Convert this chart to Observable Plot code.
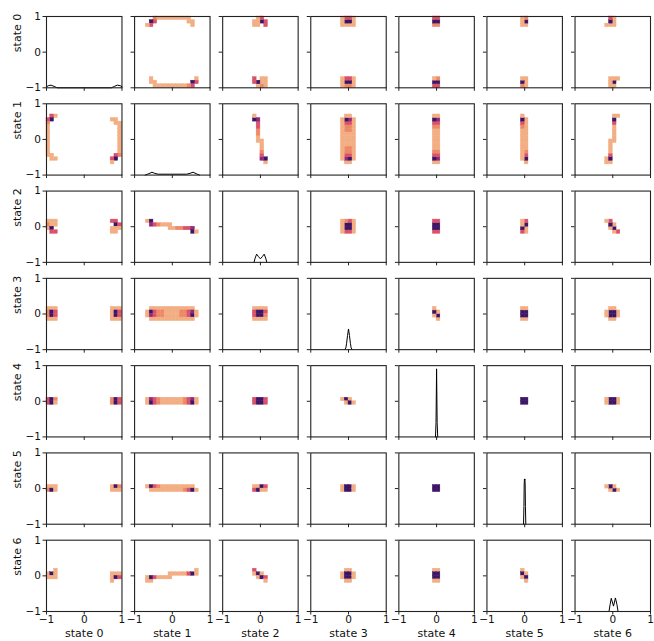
<!DOCTYPE html>
<html><head><meta charset="utf-8">
<script src="https://cdn.jsdelivr.net/npm/d3@7"></script>
<script src="https://cdn.jsdelivr.net/npm/@observablehq/plot@0.6"></script>
<style>body{margin:0;background:#fff} svg{display:block}</style>
</head><body><div id="chart"></div>
<script>
const stateLabels = ["state 0","state 1","state 2","state 3","state 4","state 5","state 6"];
const axisTicks = [-1, 0, 1];
const binCount = 20, binLo = -1, binHi = 1;
const levelColors = ["#f2ad82", "#ec8866", "#d9506a", "#8e2a7c", "#3d1566"];

// lower-triangle 2D histograms: [x bin (column state), y bin (row state), count level]
const hist_1_0 = [[2,16,1],[1,16,3],[1,15,5],[0,15,3],[0,14,2],[0,13,1],[0,12,1],[0,11,1],[0,10,1],[0,9,1],[0,8,1],[0,7,1],[0,6,1],[0,5,1],[1,5,1],[1,4,1],[2,4,1],
  [17,15,1],[18,15,1],[18,14,1],[19,14,1],[19,13,1],[19,12,1],[19,11,1],[19,10,1],[19,9,1],[19,8,1],[19,7,1],[19,6,1],[19,5,2],[18,5,3],[18,4,5],[17,4,3],[17,3,1]];
const hist_2_0 = [[0,11,1],[1,11,1],[2,11,1],[0,10,2],[1,10,1],[2,10,1],[0,9,1],[1,9,5],[1,8,3],[2,8,3],
  [17,11,3],[18,11,3],[18,10,5],[19,10,3],[19,9,1],[17,9,1],[18,9,1],[17,8,1],[18,8,1]];
const hist_2_1 = [[3,11,1],[4,11,5],[4,10,4],[5,10,3],[6,10,2],[7,10,1],[8,10,1],[9,10,1],[9,9,1],[10,9,1],[11,9,2],[12,9,2],[13,9,3],[14,9,3],[15,9,4],[15,8,5],[16,8,1]];
const hist_3_0 = [[0,11,1],[1,11,1],[2,11,1],[0,10,2],[1,10,5],[2,10,3],[0,9,2],[1,9,5],[2,9,3],[0,8,1],[1,8,1],[2,8,1],
  [17,11,1],[18,11,1],[19,11,1],[17,10,1],[18,10,5],[19,10,3],[17,9,1],[18,9,5],[19,9,3],[17,8,1],[18,8,1],[19,8,1]];
const hist_3_1 = [[3,10,1],[3,9,1],
  [4,11,1],[4,10,5],[4,9,4],[4,8,1],[5,11,1],[5,10,3],[5,9,3],[5,8,1],
  [6,11,1],[6,10,2],[6,9,2],[6,8,1],[7,11,1],[7,10,2],[7,9,2],[7,8,1],
  [8,11,1],[8,10,1],[8,9,1],[8,8,1],[9,11,1],[9,10,1],[9,9,1],[9,8,1],
  [10,11,1],[10,10,1],[10,9,1],[10,8,1],[11,11,1],[11,10,1],[11,9,1],[11,8,1],
  [12,11,1],[12,10,2],[12,9,2],[12,8,1],[13,11,1],[13,10,2],[13,9,2],[13,8,1],
  [14,11,1],[14,10,3],[14,9,3],[14,8,1],[15,11,1],[15,10,4],[15,9,5],[15,8,1],
  [16,10,1],[16,9,1]];
const hist_3_2 = [[8,11,1],[9,11,1],[10,11,1],[11,11,1],[8,10,3],[9,10,5],[10,10,5],[11,10,3],[8,9,3],[9,9,5],[10,9,5],[11,9,2],[8,8,1],[9,8,1],[10,8,1],[11,8,1]];
const hist_4_0 = [[0,10,3],[1,10,5],[2,10,2],[0,9,3],[1,9,5],[2,9,1],[17,10,2],[18,10,5],[19,10,3],[17,9,2],[18,9,5],[19,9,3]];
const hist_4_1 = [[3,10,1],[3,9,1],[4,10,4],[4,9,5],[5,10,3],[5,9,3],[6,10,2],[6,9,2],[7,10,1],[7,9,1],[8,10,1],[8,9,1],[9,10,1],[9,9,1],
  [10,10,1],[10,9,1],[11,10,1],[11,9,1],[12,10,1],[12,9,1],[13,10,2],[13,9,2],[14,10,3],[14,9,3],[15,10,4],[15,9,5],[16,10,1],[16,9,1]];
const hist_4_2 = [[8,10,3],[8,9,3],[9,10,5],[9,9,5],[10,10,5],[10,9,5],[11,10,3],[11,9,3]];
const hist_4_3 = [[8,10,1],[9,10,5],[10,10,1],[9,9,1],[10,9,5],[11,9,1]];
const hist_5_0 = [[0,10,1],[1,10,1],[2,10,1],[0,9,2],[1,9,5],[2,9,1],[17,10,1],[18,10,5],[19,10,2],[17,9,1],[18,9,1],[19,9,1]];
const hist_5_1 = [[3,10,1],[4,10,5],[5,10,3],[6,10,2],[7,10,1],[8,10,1],[9,10,1],[10,10,1],[11,10,1],[12,10,1],[13,10,1],[14,10,1],[15,10,1],
  [4,9,1],[5,9,1],[6,9,1],[7,9,1],[8,9,1],[9,9,1],[10,9,1],[11,9,1],[12,9,1],[13,9,2],[14,9,3],[15,9,5],[16,9,1]];
const hist_5_2 = [[8,10,1],[9,10,1],[10,10,5],[11,10,3],[8,9,3],[9,9,5],[10,9,1],[11,9,1]];
const hist_5_3 = [[8,10,1],[8,9,1],[9,10,5],[9,9,5],[10,10,5],[10,9,5],[11,10,1],[11,9,1]];
const hist_5_4 = [[9,10,5],[10,10,5],[9,9,5],[10,9,5]];
const hist_6_0 = [[2,11,1],[0,10,1],[1,10,5],[2,10,1],[0,9,1],[1,9,1],[2,9,1],[17,10,1],[18,10,1],[19,10,1],[17,9,1],[18,9,5],[19,9,3],[17,8,1]];
const hist_6_1 = [[3,8,1],[4,8,1],[3,9,1],[4,9,5],[5,9,3],[6,9,1],[7,9,1],[8,9,1],[9,9,1],[9,10,1],[10,10,1],[11,10,1],[12,10,1],[13,10,1],[14,10,3],[15,10,5],[16,10,1],[16,11,1]];
const hist_6_2 = [[8,11,3],[8,10,1],[9,10,5],[10,10,1],[9,9,1],[10,9,5],[11,9,3],[11,8,1]];
const hist_6_3 = [[9,11,1],[10,11,1],[8,10,1],[9,10,5],[10,10,5],[11,10,1],[8,9,1],[9,9,5],[10,9,5],[11,9,1],[9,8,1],[10,8,1]];
const hist_6_4 = [[9,11,1],[10,11,1],[9,10,5],[10,10,5],[9,9,5],[10,9,5],[9,8,1],[10,8,1]];
const hist_6_5 = [[9,11,1],[9,10,5],[10,10,1],[9,9,1],[10,9,5],[10,8,1]];

// diagonal density curves [x, y] in panel units
const diag_0 = [[-1,-0.97],[-0.95,-0.94],[-0.88,-0.925],[-0.8,-0.96],[-0.72,-1],[0.72,-1],[0.8,-0.96],[0.88,-0.925],[0.95,-0.94],[1,-0.97]];
const diag_1 = [[-0.72,-1],[-0.62,-0.96],[-0.54,-0.92],[-0.47,-0.95],[-0.38,-0.975],[0,-0.975],[0.38,-0.975],[0.47,-0.95],[0.55,-0.92],[0.63,-0.96],[0.72,-1]];
const diag_2 = [[-0.17,-1],[-0.14,-0.88],[-0.1,-0.77],[-0.05,-0.84],[0,-0.9],[0.05,-0.84],[0.1,-0.77],[0.14,-0.88],[0.17,-1]];
const diag_3 = [[-0.1,-1],[-0.07,-0.95],[-0.05,-0.82],[-0.025,-0.6],[0,-0.42],[0.025,-0.6],[0.05,-0.82],[0.07,-0.95],[0.1,-1]];
const diag_4 = [[-0.03,-1],[-0.015,-0.6],[0,0.91],[0.015,-0.6],[0.03,-1]];
const diag_5 = [[-0.03,-1],[-0.02,-0.5],[-0.013,0.1],[-0.006,0.27],[0,0.24],[0.006,0.27],[0.013,0.1],[0.02,-0.5],[0.03,-1]];
const diag_6 = [[-0.1,-1],[-0.07,-0.8],[-0.04,-0.63],[0.02,-0.85],[0.07,-0.62],[0.11,-0.8],[0.14,-1]];

const lowerHists = [
  [1,0,hist_1_0],[2,0,hist_2_0],[2,1,hist_2_1],[3,0,hist_3_0],[3,1,hist_3_1],[3,2,hist_3_2],
  [4,0,hist_4_0],[4,1,hist_4_1],[4,2,hist_4_2],[4,3,hist_4_3],
  [5,0,hist_5_0],[5,1,hist_5_1],[5,2,hist_5_2],[5,3,hist_5_3],[5,4,hist_5_4],
  [6,0,hist_6_0],[6,1,hist_6_1],[6,2,hist_6_2],[6,3,hist_6_3],[6,4,hist_6_4],[6,5,hist_6_5]];
const diags = [diag_0, diag_1, diag_2, diag_3, diag_4, diag_5, diag_6];

const bw = (binHi - binLo) / binCount;
const cells = lowerHists.flatMap(([r, c, h]) => h.flatMap(([bx, by, lv]) => [
  {col: c, row: r, x1: binLo + bx*bw, x2: binLo + (bx+1)*bw, y1: binLo + by*bw, y2: binLo + (by+1)*bw, lv},
  {col: r, row: c, x1: binLo + by*bw, x2: binLo + (by+1)*bw, y1: binLo + bx*bw, y2: binLo + (bx+1)*bw, lv}
]));
const lines = diags.flatMap((d, k) => d.map(([x, y]) => ({col: k, row: k, x, y})));
const idx = d3.range(stateLabels.length);
const bottomLabels = idx.map(i => ({col: i, row: 6, t: stateLabels[i]}));
const leftLabels = idx.map(i => ({col: 0, row: i, t: stateLabels[i]}));
const fmt = d => d < 0 ? "\u2212" + Math.abs(d) : String(d);

const chart = Plot.plot({
  width: 654, height: 641,
  marginLeft: 46, marginRight: 4, marginTop: 16, marginBottom: 30,
  style: {fontFamily: "DejaVu Sans", fontSize: "10.5px", color: "#111", background: "#fff"},
  fx: {domain: idx, axis: null, paddingInner: 0.1433, paddingOuter: 0, round: false},
  fy: {domain: idx, axis: null, paddingInner: 0.1831, paddingOuter: 0, round: false},
  x: {domain: [-1, 1]},
  y: {domain: [-1, 1]},
  color: {type: "ordinal", domain: [1,2,3,4,5], range: levelColors},
  marks: [
    Plot.rect(cells, {fx: "col", fy: "row", x1: "x1", x2: "x2", y1: "y1", y2: "y2", fill: "lv", stroke: "lv", strokeWidth: 0.4}),
    Plot.line(lines, {fx: "col", fy: "row", x: "x", y: "y", stroke: "#000", strokeWidth: 1}),
    Plot.frame({stroke: "#222", strokeWidth: 1.1}),
    Plot.axisX({ticks: axisTicks, tickSize: 3.5, fill: "none", stroke: "#222", facetAnchor: null, label: null}),
    Plot.axisY({ticks: axisTicks, tickSize: 3.5, fill: "none", stroke: "#222", facetAnchor: null, label: null}),
    Plot.axisX({ticks: axisTicks, tickSize: 3.5, tickPadding: 1, stroke: "none", fill: "#111", tickFormat: fmt, facetAnchor: "bottom", label: null}),
    Plot.axisY({ticks: axisTicks, tickSize: 3.5, tickPadding: 2, stroke: "none", fill: "#111", tickFormat: fmt, facetAnchor: "left", label: null}),
    Plot.text(bottomLabels, {fx: "col", fy: "row", text: "t", frameAnchor: "bottom", lineAnchor: "top", dy: 17.5, fontSize: 11, fill: "#111"}),
    Plot.text(leftLabels, {fx: "col", fy: "row", text: "t", frameAnchor: "left", rotate: -90, lineAnchor: "middle", dx: -29, fontSize: 11, fill: "#111"})
  ]
});
document.getElementById("chart").append(chart);
</script>
</body></html>
